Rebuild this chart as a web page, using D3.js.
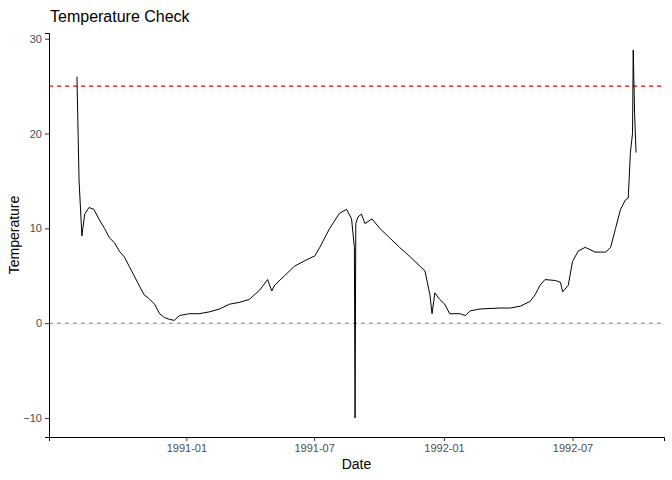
<!DOCTYPE html>
<html>
<head>
<meta charset="utf-8">
<script src="https://cdn.jsdelivr.net/npm/d3@7"></script>
<style>
  body { margin: 0; background: #fff; }
  text { font-family: "Liberation Sans", Arial, sans-serif; }
</style>
</head>
<body>
<svg id="chart" width="672" height="480"></svg>
<script>
// temperature readings
const dates = [
  "1990-07-30","1990-08-02","1990-08-06","1990-08-10","1990-08-16","1990-08-23","1990-08-30",
  "1990-09-07","1990-09-14","1990-09-21","1990-09-28","1990-10-05","1990-10-12","1990-10-19",
  "1990-10-26","1990-11-02","1990-11-09","1990-11-17","1990-11-24","1990-12-01","1990-12-08",
  "1990-12-15","1990-12-22","1991-01-05","1991-01-19","1991-02-03","1991-02-17","1991-03-03",
  "1991-03-17","1991-03-31","1991-04-15","1991-04-26","1991-05-02","1991-05-06","1991-05-20",
  "1991-06-03","1991-06-18","1991-07-02","1991-07-09","1991-07-23","1991-08-06","1991-08-16",
  "1991-08-23","1991-08-27","1991-08-28","1991-08-29","1991-09-01","1991-09-06","1991-09-11",
  "1991-09-21","1991-10-02","1991-10-16","1991-10-30","1991-11-14","1991-11-28","1991-12-05",
  "1991-12-12","1991-12-15","1991-12-19","1991-12-26","1992-01-02","1992-01-09","1992-01-24",
  "1992-01-31","1992-02-07","1992-02-21","1992-03-20","1992-04-04","1992-04-18","1992-05-02",
  "1992-05-09","1992-05-16","1992-05-23","1992-06-07","1992-06-14","1992-06-17","1992-06-25",
  "1992-07-01","1992-07-09","1992-07-19","1992-08-02","1992-08-17","1992-08-24","1992-08-31",
  "1992-09-07","1992-09-14","1992-09-18","1992-09-21","1992-09-24","1992-09-25","1992-09-27",
  "1992-09-29"
];
const temps = [
  26.0, 15.0, 9.2, 11.5, 12.2, 12.0, 11.0,
  10.0, 9.0, 8.5, 7.6, 7.0, 6.0, 5.0,
  4.0, 3.0, 2.6, 2.0, 1.0, 0.6, 0.4,
  0.3, 0.8, 1.0, 1.0, 1.2, 1.5, 2.0,
  2.2, 2.5, 3.5, 4.6, 3.4, 4.0, 5.0,
  6.0, 6.6, 7.1, 8.0, 10.0, 11.6, 12.0,
  11.0, 8.0, -10.0, 10.5, 11.2, 11.5, 10.5,
  11.0, 10.0, 9.0, 8.0, 7.0, 6.0, 5.5,
  3.0, 1.0, 3.2, 2.5, 2.0, 1.0, 1.0,
  0.8, 1.3, 1.5, 1.6, 1.6, 1.8, 2.3,
  3.0, 4.0, 4.6, 4.5, 4.3, 3.3, 4.0,
  6.5, 7.6, 8.0, 7.5, 7.5, 8.0, 10.0,
  12.0, 13.0, 13.2, 18.0, 20.0, 28.8, 22.0,
  18.0
];
const xTickDates = ["1991-01-01", "1991-07-01", "1992-01-01", "1992-07-01"];
const xTickLabels = ["1991-01", "1991-07", "1992-01", "1992-07"];
const yTicks = [-10, 0, 10, 20, 30];
const refLines = [{ y: 25, color: "red" }, { y: 0, color: "#7f7f7f" }];

const parse = d3.timeParse("%Y-%m-%d");
const data = dates.map((d, i) => ({ date: parse(d), t: temps[i] }));

const margin = { left: 49, right: 8, top: 33, bottom: 43 };
const width = 672, height = 480;
const svg = d3.select("#chart");

// ggplot-style 5% expansion
const xExt = d3.extent(data, d => d.date);
const xPad = (xExt[1] - xExt[0]) * 0.05;
const x = d3.scaleTime()
  .domain([new Date(+xExt[0] - xPad), new Date(+xExt[1] + xPad)])
  .range([margin.left, width - margin.right]);
const y = d3.scaleLinear()
  .domain([-12, 30.6])
  .range([height - margin.bottom, margin.top]);

// reference lines
svg.selectAll("line.ref").data(refLines).enter().append("line")
  .attr("x1", margin.left).attr("x2", width - margin.right)
  .attr("y1", d => y(d.y)).attr("y2", d => y(d.y))
  .attr("stroke", d => d.color).attr("stroke-width", 1.1)
  .attr("stroke-dasharray", "4,4");

svg.append("path").datum(data)
  .attr("fill", "none").attr("stroke", "black").attr("stroke-width", 1)
  .attr("d", d3.line().x(d => x(d.date)).y(d => y(d.t)));

const xAxis = svg.append("g")
  .attr("transform", `translate(0,${height - margin.bottom})`)
  .call(d3.axisBottom(x).tickValues(xTickDates.map(parse))
    .tickFormat((d, i) => xTickLabels[i]).tickSizeOuter(0).tickSize(4));
const yAxis = svg.append("g")
  .attr("transform", `translate(${margin.left},0)`)
  .call(d3.axisLeft(y).tickValues(yTicks).tickSizeOuter(0).tickSize(4));
[xAxis, yAxis].forEach(g => {
  g.select(".domain").attr("stroke", "black");
  g.selectAll(".tick line").attr("stroke", "#333");
  g.selectAll(".tick text").style("fill", "#4d4d4d").style("font-size", "11px")
    .style("font-family", "Liberation Sans, Arial, sans-serif");
});

svg.append("text").attr("x", margin.left + 1).attr("y", 22)
  .style("font-size", "16px").text("Temperature Check");
svg.append("text").attr("x", (margin.left + width - margin.right) / 2).attr("y", 469)
  .attr("text-anchor", "middle").style("font-size", "14px").text("Date");
svg.append("text")
  .attr("transform", `translate(19,${(margin.top + height - margin.bottom) / 2}) rotate(-90)`)
  .attr("text-anchor", "middle").style("font-size", "14px").text("Temperature");
</script>
</body>
</html>
